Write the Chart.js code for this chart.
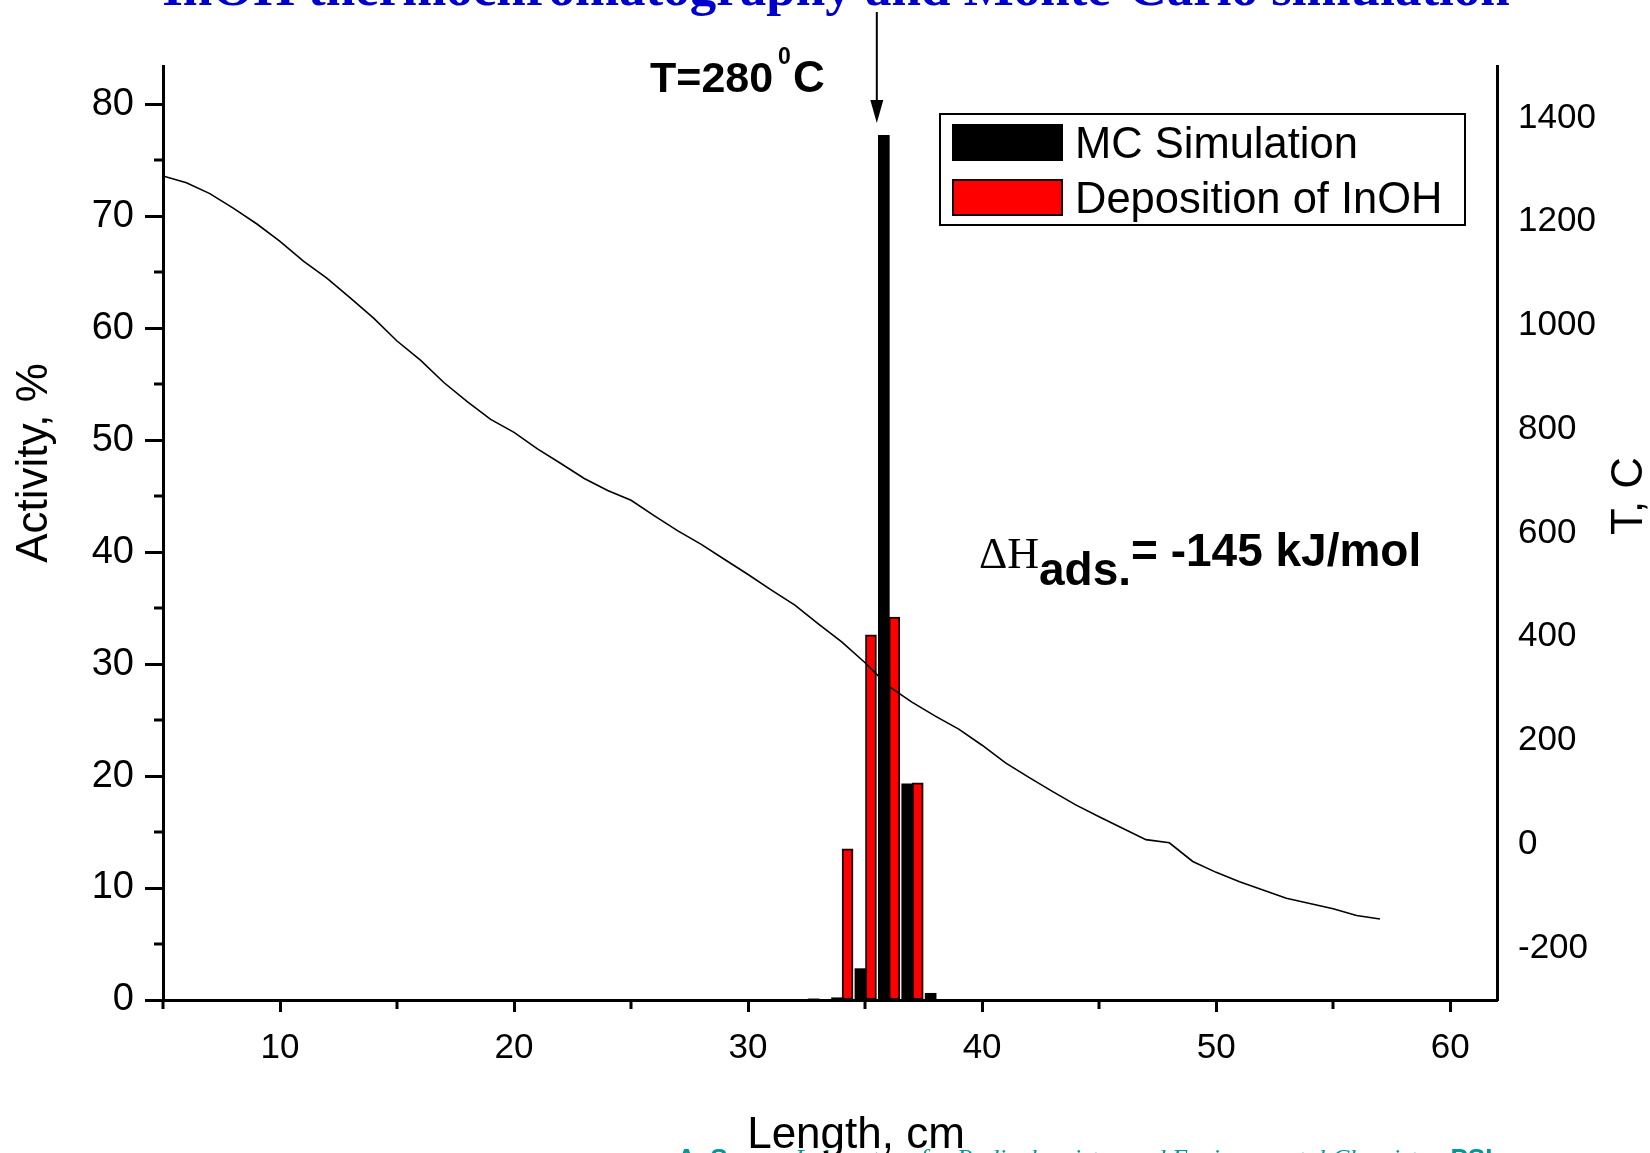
<!DOCTYPE html>
<html>
<head>
<meta charset="utf-8">
<title>InOH thermochromatography and Monte-Carlo simulation</title>
<script src="https://cdn.jsdelivr.net/npm/chart.js@4.4.1/dist/chart.umd.min.js"></script>
<style>
  html, body { margin: 0; padding: 0; background: #ffffff; }
  #wrap { position: relative; width: 1650px; height: 1153px; overflow: hidden; }
  canvas { display: block; }
</style>
</head>
<body>
<div id="wrap"><canvas id="chart" width="1650" height="1153"></canvas></div>
<script>
// Temperature profile along the column
const lengthCm = [5, 6, 7, 8, 9, 10, 11, 12, 13, 14, 15, 16, 17, 18, 19, 20, 21, 22, 23, 24, 25, 26, 27, 28, 29, 30,
  31, 32, 33, 34, 35, 36, 37, 38, 39, 40, 41, 42, 43, 44, 45, 46, 47, 48, 49, 50, 51, 52, 53, 54, 55, 56, 57];
const temperatureC = [1288, 1275, 1254, 1226, 1196, 1162, 1124, 1091, 1053, 1014, 970, 933, 890, 853, 819, 794, 762, 734,
  705, 682, 663, 633, 604, 578, 549, 520, 490, 461, 425, 390, 350, 305, 274, 247, 222, 191, 157, 129, 102, 76, 53, 31,
  9, 3, -33, -54, -72, -88, -104, -114, -124, -137, -144];

// Monte-Carlo simulated deposition profile
const mcLength = [32.8, 33.8, 34.8, 35.8, 36.8, 37.8];
const mcActivity = [0.1, 0.2, 2.8, 77.2, 19.3, 0.6];

// Measured InOH deposition
const depLength = [34.25, 35.25, 36.25, 37.25];
const depActivity = [13.5, 32.6, 34.2, 19.4];

// Axis tick values
const lengthTicks = [5, 10, 15, 20, 25, 30, 35, 40, 45, 50, 55, 60];
const activityTicks = [0, 5, 10, 15, 20, 25, 30, 35, 40, 45, 50, 55, 60, 65, 70, 75, 80];
const temperatureTicks = [-200, 0, 200, 400, 600, 800, 1000, 1200, 1400];

// Deposition temperature marker (position along the column)
const depositionMark = 35.5;
const depositionLabel = 'T=280';

const SANS = '"Liberation Sans", Arial, Helvetica, sans-serif';
const SERIF = '"Liberation Serif", "Times New Roman", serif';

const toPoints = (xs, ys) => xs.map((x, i) => ({ x: x, y: ys[i] }));

// Short (minor) tick marks between the labelled ones
const minorTicks = {
  id: 'minorTicks',
  afterDraw(chart) {
    const ctx = chart.ctx;
    const xs = chart.scales.x, ys = chart.scales.y;
    ctx.save();
    ctx.strokeStyle = '#000';
    ctx.lineWidth = 3;
    ctx.beginPath();
    lengthTicks.filter(v => v % 10 !== 0).forEach(v => {
      const px = Math.round(xs.getPixelForValue(v));
      ctx.moveTo(px, xs.top);
      ctx.lineTo(px, xs.top + 9);
    });
    activityTicks.filter(v => v % 10 !== 0).forEach(v => {
      const py = Math.round(ys.getPixelForValue(v));
      ctx.moveTo(ys.right - 9, py);
      ctx.lineTo(ys.right, py);
    });
    ctx.stroke();
    ctx.restore();
  }
};

// Titles, legend and annotations
const annotations = {
  id: 'annotations',
  afterDraw(chart) {
    const ctx = chart.ctx;
    const xs = chart.scales.x;
    ctx.save();

    // slide heading
    ctx.fillStyle = '#0000cc';
    ctx.font = 'bold 53px ' + SERIF;
    ctx.textAlign = 'center';
    ctx.textBaseline = 'alphabetic';
    ctx.fillText('InOH thermochromatography and Monte-Carlo simulation', 836, 5);

    // credit line
    ctx.fillStyle = '#009999';
    ctx.textAlign = 'left';
    let cx = 677;
    const cy = 1167;
    ctx.font = 'bold 26px ' + SANS;
    ctx.fillText('A. Serov, ', cx, cy);
    cx += ctx.measureText('A. Serov, ').width;
    ctx.font = 'italic 26px ' + SERIF;
    const lab = 'Laboratory for Radiochemistry and Environmental Chemistry, ';
    ctx.fillText(lab, cx, cy);
    cx += ctx.measureText(lab).width;
    ctx.font = 'bold 26px ' + SANS;
    ctx.fillText('PSI', cx, cy);

    // axis titles
    ctx.fillStyle = '#000';
    ctx.font = '44px ' + SANS;
    ctx.textAlign = 'center';
    ctx.fillText('Length, cm', 856, 1148);

    ctx.save();
    ctx.translate(47, 463);
    ctx.rotate(-Math.PI / 2);
    ctx.fillText('Activity, %', 0, 0);
    ctx.restore();

    ctx.save();
    ctx.translate(1642, 496);
    ctx.rotate(-Math.PI / 2);
    ctx.fillText('T, C', 0, 0);
    ctx.restore();

    // deposition marker arrow
    const ax = xs.getPixelForValue(depositionMark);
    ctx.strokeStyle = '#000';
    ctx.lineWidth = 2;
    ctx.beginPath();
    ctx.moveTo(ax, 12);
    ctx.lineTo(ax, 104);
    ctx.stroke();
    ctx.beginPath();
    ctx.moveTo(ax - 6.5, 100);
    ctx.lineTo(ax + 6.5, 100);
    ctx.lineTo(ax, 123);
    ctx.closePath();
    ctx.fillStyle = '#000';
    ctx.fill();

    // T=280 °C label
    ctx.textAlign = 'left';
    ctx.font = 'bold 43px ' + SANS;
    let tx = 650;
    ctx.fillText(depositionLabel, tx, 92);
    tx += ctx.measureText(depositionLabel).width + 5;
    ctx.font = 'bold 23px ' + SANS;
    ctx.fillText('0', tx, 64);
    tx += ctx.measureText('0').width + 2;
    ctx.font = 'bold 44px ' + SANS;
    ctx.fillText('C', tx, 92);

    // adsorption enthalpy
    ctx.font = '44px ' + SERIF;
    ctx.fillText('\u0394H', 979, 568);
    ctx.font = 'bold 46px ' + SANS;
    ctx.fillText('ads.', 1039, 585);
    ctx.fillText('= -145 kJ/mol', 1131, 566);

    // legend
    const lx = 940, ly = 114, lw = 525, lh = 111;
    ctx.fillStyle = '#fff';
    ctx.fillRect(lx, ly, lw, lh);
    ctx.lineWidth = 2;
    ctx.strokeStyle = '#000';
    ctx.strokeRect(lx, ly, lw, lh);
    const entries = [chart.data.datasets[2], chart.data.datasets[1]];
    const rows = [124, 179];
    entries.forEach((ds, i) => {
      const sy = rows[i];
      ctx.fillStyle = ds.backgroundColor;
      ctx.fillRect(952, sy, 111, 37);
      if (ds.borderWidth) {
        ctx.lineWidth = 2;
        ctx.strokeStyle = ds.borderColor;
        ctx.strokeRect(953, sy + 1, 109, 35);
      }
      ctx.fillStyle = '#000';
      ctx.font = '43.5px ' + SANS;
      ctx.textBaseline = 'middle';
      ctx.fillText(ds.label, 1075, sy + 22);
      ctx.textBaseline = 'alphabetic';
    });

    ctx.restore();
  }
};

const tickFont = size => ({ family: SANS, size: size, weight: 'normal' });

new Chart(document.getElementById('chart'), {
  type: 'bar',
  data: {
    datasets: [
      {
        type: 'line',
        label: 'T',
        data: toPoints(lengthCm, temperatureC),
        yAxisID: 'y2',
        borderColor: '#000',
        borderWidth: 1.6,
        pointRadius: 0,
        tension: 0,
        fill: false,
        order: 0
      },
      {
        label: 'Deposition of InOH',
        data: toPoints(depLength, depActivity),
        yAxisID: 'y',
        backgroundColor: '#ff0000',
        borderColor: '#1a0000',
        borderWidth: 2,
        borderSkipped: false,
        barThickness: 11,
        grouped: false,
        order: 1
      },
      {
        label: 'MC Simulation',
        data: toPoints(mcLength, mcActivity),
        yAxisID: 'y',
        backgroundColor: '#000000',
        borderWidth: 0,
        barThickness: 11,
        grouped: false,
        order: 2
      }
    ]
  },
  options: {
    responsive: false,
    devicePixelRatio: 1,
    animation: false,
    events: [],
    layout: { padding: { top: 66, left: 0, right: 0, bottom: 0 } },
    plugins: {
      legend: { display: false },
      tooltip: { enabled: false },
      title: { display: false }
    },
    scales: {
      x: {
        type: 'linear',
        position: 'bottom',
        min: 5,
        max: 62,
        offset: false,
        afterBuildTicks: s => { s.ticks = lengthTicks.map(v => ({ value: v })); },
        afterFit: s => { s.height = 153; },
        border: { display: true, width: 3, color: '#000' },
        grid: {
          display: true,
          offset: false,
          drawOnChartArea: false,
          drawTicks: true,
          tickLength: 12,
          tickWidth: 3,
          tickColor: c => (c.tick && c.tick.value % 10 === 0) ? '#000' : 'rgba(0,0,0,0)'
        },
        ticks: {
          color: '#000',
          font: tickFont(35),
          padding: 15,
          maxRotation: 0,
          autoSkip: false,
          callback: v => (v % 10 === 0 ? String(v) : '')
        }
      },
      y: {
        type: 'linear',
        position: 'left',
        min: 0,
        max: 83.4,
        afterBuildTicks: s => { s.ticks = activityTicks.map(v => ({ value: v })); },
        afterFit: s => { s.width = 163; },
        border: { display: true, width: 3, color: '#000' },
        grid: {
          display: true,
          drawOnChartArea: false,
          drawTicks: true,
          tickLength: 18,
          tickWidth: 3,
          tickColor: c => (c.tick && c.tick.value % 10 === 0) ? '#000' : 'rgba(0,0,0,0)'
        },
        ticks: {
          color: '#000',
          font: tickFont(38),
          padding: 11,
          autoSkip: false,
          callback: v => (v % 10 === 0 ? String(v) : '')
        }
      },
      y2: {
        type: 'linear',
        position: 'right',
        min: -300,
        max: 1500,
        afterBuildTicks: s => { s.ticks = temperatureTicks.map(v => ({ value: v })); },
        afterFit: s => { s.width = 153; },
        border: { display: true, width: 3, color: '#000' },
        grid: { display: true, drawOnChartArea: false, drawTicks: false },
        ticks: {
          color: '#000',
          font: tickFont(35),
          padding: 21,
          autoSkip: false,
          callback: v => String(v)
        }
      }
    }
  },
  plugins: [minorTicks, annotations]
});
</script>
</body>
</html>
